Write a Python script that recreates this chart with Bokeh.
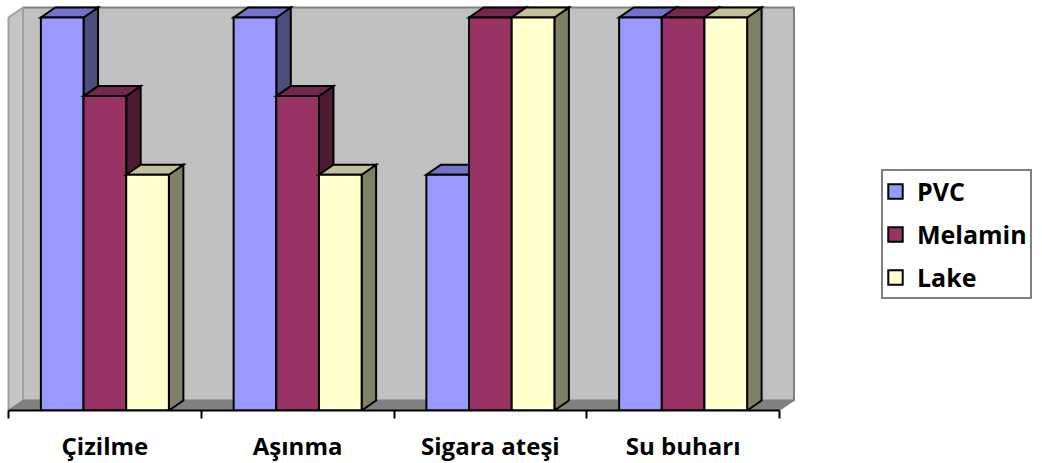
from bokeh.plotting import figure
from bokeh.models import Range1d, FixedTicker, Legend, LegendItem
from bokeh.embed import file_html
from bokeh.resources import INLINE

# ---- data ----
categories = ["Çizilme", "Aşınma", "Sigara ateşi", "Su buharı"]
series = ["PVC", "Melamin", "Lake"]
pvc = [5, 5, 3, 5]
melamin = [4, 4, 5, 5]
lake = [3, 3, 5, 5]
values = [pvc, melamin, lake]
y_max = 5

front_colors = ["#9999FF", "#993366", "#FFFFCC"]
top_colors = ["#7373C9", "#75264F", "#C0C09A"]
side_colors = ["#4D4D80", "#4D1A33", "#808066"]

# ---- layout constants (pixels) ----
W, H = 1042, 463
frame_h = 410
px_per_cat = 192.75
px_per_val = 393 / 5
x_off_px = 8
depth_dx_px, depth_dy_px = 14.5, 10.0

dxu = depth_dx_px / px_per_cat
dyv = depth_dy_px / px_per_val
n = len(categories)

p = figure(frame_width=W, frame_height=frame_h,
           output_backend="svg", toolbar_location=None,
           x_range=Range1d(-x_off_px / px_per_cat, (W - x_off_px) / px_per_cat),
           y_range=Range1d(0, frame_h / px_per_val),
           min_border_left=0, min_border_right=0, min_border_top=0,
           min_border_bottom=H - frame_h)
p.outline_line_color = None
p.grid.visible = False
p.yaxis.visible = False
p.background_fill_color = "white"
p.border_fill_color = "white"

# walls & floor
p.quad(left=[dxu], right=[n + dxu], bottom=[dyv], top=[y_max + dyv],
       fill_color="#C0C0C0", line_color="#808080", line_width=2)
p.patches(xs=[[0, 0, dxu, dxu]], ys=[[0, y_max, y_max + dyv, dyv]],
          fill_color="#C4C4C4", line_color="#A0A0A0", line_width=2)
p.patches(xs=[[0, n, n + dxu, dxu]], ys=[[0, 0, dyv, dyv]],
          fill_color="#808080", line_color="#808080", line_width=1)

group_w = 128 / px_per_cat
bar_w = group_w / len(series)

legend_items = []
for s, name in enumerate(series):
    vals = values[s]
    x0 = [c + 0.5 - group_w / 2 + s * bar_w for c in range(n)]
    x1 = [a + bar_w for a in x0]
    side_xs = [[b, b, b + dxu, b + dxu] for b in x1]
    side_ys = [[0, v, v + dyv, dyv] for v in vals]
    top_xs = [[a, b, b + dxu, a + dxu] for a, b in zip(x0, x1)]
    top_ys = [[v, v, v + dyv, v + dyv] for v in vals]
    p.patches(xs=side_xs, ys=side_ys, fill_color=side_colors[s],
              line_color="black", line_width=2, line_join="miter")
    p.patches(xs=top_xs, ys=top_ys, fill_color=top_colors[s],
              line_color="black", line_width=2, line_join="miter")
    r = p.quad(left=x0, right=x1, bottom=[0] * n, top=vals,
               fill_color=front_colors[s], line_color="black", line_width=2,
               line_join="miter")
    legend_items.append(LegendItem(label=name, renderers=[r]))

# x axis: ticks at category boundaries, labels at centres
ax = p.xaxis[0]
ax.ticker = FixedTicker(ticks=[c + 0.5 for c in range(n)],
                        minor_ticks=list(range(n + 1)))
ax.major_label_overrides = {c + 0.5: categories[c] for c in range(n)}
ax.bounds = (0, n)
ax.axis_line_color = "black"
ax.axis_line_width = 2
ax.major_tick_line_color = None
ax.major_tick_out = 0
ax.major_tick_in = 0
ax.minor_tick_line_color = "black"
ax.minor_tick_line_width = 2
ax.minor_tick_out = 8
ax.minor_tick_in = 0
ax.major_label_standoff = 10
ax.major_label_text_font = "Open Sans"
ax.major_label_text_font_style = "bold"
ax.major_label_text_font_size = "24px"
ax.major_label_text_color = "black"

legend = Legend(items=legend_items, location=(881, frame_h - 299),
                orientation="vertical",
                border_line_color="black", border_line_width=2,
                background_fill_color="white", background_fill_alpha=1,
                padding=3, spacing=9, margin=0,
                glyph_width=18, glyph_height=18, label_height=25,
                label_standoff=13,
                label_text_font="Open Sans", label_text_font_style="bold",
                label_text_font_size="25px", label_text_color="black")
p.add_layout(legend, "center")

open("out.html", "w").write(file_html(p, INLINE))
